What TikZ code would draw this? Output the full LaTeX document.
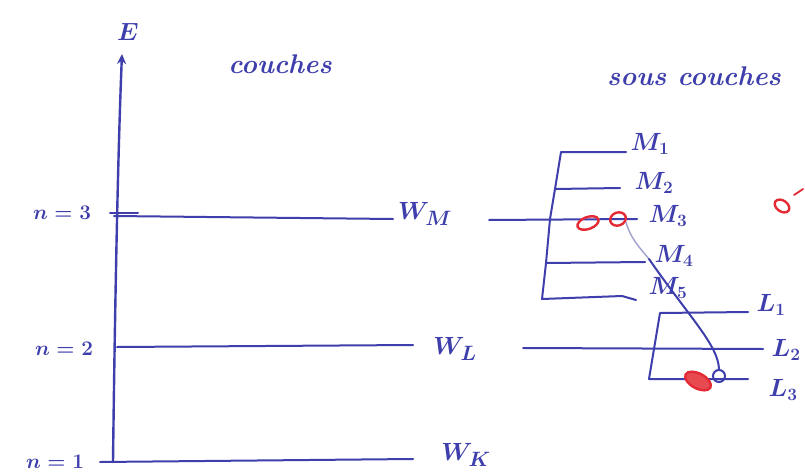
\documentclass[tikz,border=0pt]{standalone}
\usetikzlibrary{arrows.meta,shapes.geometric}
\definecolor{pen}{RGB}{62,62,172}
\definecolor{redpen}{RGB}{228,42,52}
\definecolor{lightpen}{RGB}{160,160,205}
\begin{document}
\begin{tikzpicture}[x=1pt,y=-1pt,
  lvl/.style={draw=pen,line width=2pt,line cap=round,line join=round},
  lab/.style={text=pen,inner sep=1pt,font=\fontsize{25}{25}\selectfont\boldmath},
  biglab/.style={text=pen,inner sep=1pt,font=\fontsize{31}{31}\selectfont\boldmath},
  nlab/.style={text=pen,inner sep=1pt,font=\fontsize{21}{21}\selectfont\boldmath},
  title/.style={text=pen,inner sep=1pt,font=\fontsize{27}{27}\selectfont\bfseries\itshape},
  elec/.style={draw=redpen,line width=2.4pt,ellipse,inner sep=0pt},
  holeb/.style={draw=pen,line width=2pt,circle,inner sep=0pt,minimum size=12pt}]
\useasboundingbox (0,0) rectangle (805,476);
\fill[white] (0,0) rectangle (805,476);

% energy axis
\coordinate (ax0) at (113,462);
\coordinate (axtop) at (122,54);
\draw[lvl,line width=2.4pt,-{Stealth[length=10pt,width=9pt]}] (ax0) .. controls (115,300) and (118,150) .. (axtop);
\node[biglab] (E) at (128,32) {$E$};

% titles
\node[title] (couches) at (280,64) {couches};
\node[title] (souscouches) at (694,76) {sous couches};

% shells
\node[nlab] (n3) at (62,213) {$n=3$};
\node[nlab] (n2) at (64,349) {$n=2$};
\node[nlab] (n1) at (55,462) {$n=1$};
\draw[lvl] (110,213) -- (138,213);
\draw[lvl] (114,216) -- (393,219);
\draw[lvl] (117,347) -- (413,345);
\draw[lvl] (100,462) -- (413,459);
\node[biglab] (WM) at (425,214) {$W_M$};
\node[biglab] (WL) at (455,349) {$W_L$};
\node[biglab] (WK) at (466,455) {$W_K$};

% M subshells
\draw[lvl] (489,220) -- (637,219);
\draw[lvl] (626,152) -- (561,152) -- (555,189) -- (550,219) -- (546,263) -- (542,299) -- (622,296) -- (636,300);
\draw[lvl] (555,189) -- (620,188);
\draw[lvl] (546,263) -- (645,262);
\node[lab] (M1) at (650,144) {$M_1$};
\node[lab] (M2) at (654,183) {$M_2$};
\node[lab] (M3) at (668,216) {$M_3$};
\node[lab] (M4) at (674,256) {$M_4$};
\node[lab] (M5) at (668,288) {$M_5$};

% L subshells
\draw[lvl] (748,312) -- (660,313) -- (649,379) -- (748,379);
\draw[lvl] (523,348) -- (763,349);
\node[lab] (L1) at (771,305) {$L_1$};
\node[lab] (L2) at (786,350) {$L_2$};
\node[lab] (L3) at (783,390) {$L_3$};

% electrons
\node[elec,minimum width=22pt,minimum height=12pt,rotate=20] (e1) at (588,223) {};
\node[elec,minimum width=16pt,minimum height=13pt,rotate=20] (e2) at (618,219) {};
\node[elec,fill=redpen!85,minimum width=28pt,minimum height=15pt,rotate=-28] (e3) at (698,381) {};
\node[elec,minimum width=16pt,minimum height=11pt,rotate=-35] (e4) at (782,206) {};
\draw[redpen,line width=1.8pt,line cap=round] (794,195) -- (803,189);
\node[holeb] (hole) at (719,376) {};

% transition
\coordinate (mid) at (649,259);
\draw[lightpen,line width=1.4pt] (e2.south east) .. controls (630,238) and (640,248) .. (mid);
\draw[lvl] (mid) .. controls (690,318) and (718,345) .. (hole.north);
\end{tikzpicture}
\end{document}
